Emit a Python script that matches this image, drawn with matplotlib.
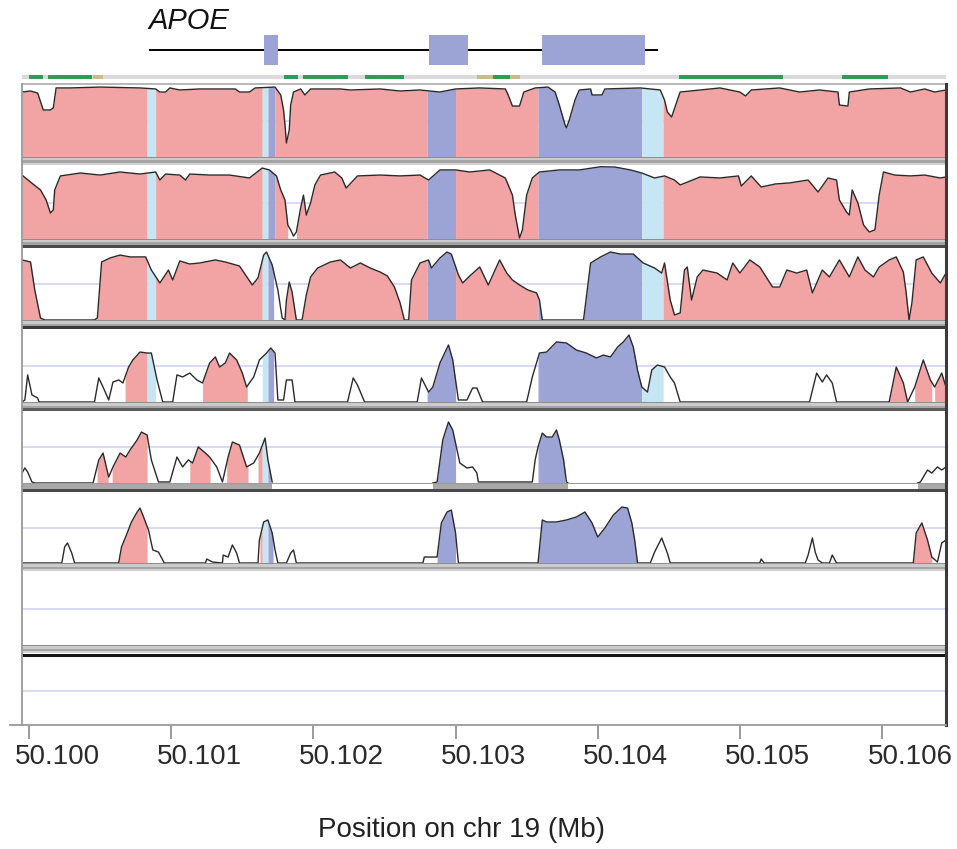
import numpy as np
import matplotlib
matplotlib.use('Agg')
import matplotlib.pyplot as plt
from matplotlib.patches import Rectangle
from matplotlib.lines import Line2D
from matplotlib import transforms

plt.rcParams['font.family'] = ['Liberation Sans', 'DejaVu Sans']

# positions are kb from 50.100 Mb, values are % identity (50-100)
START_MB = 50.100
view_kb = (-0.05, 6.45)
tick_kb = [0, 1, 2, 3, 4, 5, 6]
tick_labels = ['50.100', '50.101', '50.102', '50.103', '50.104', '50.105', '50.106']

gene_name = 'APOE'
gene_span = (0.85, 4.42)
gene_exons = [(1.65, 1.75), (2.81, 3.09), (3.61, 4.33)]

green_blocks = [(0.00, 0.10), (0.13, 0.44), (1.79, 1.89), (1.93, 2.24), (2.36, 2.64),
                (3.26, 3.38), (4.57, 5.30), (5.72, 6.04)]
tan_blocks = [(0.45, 0.52), (3.15, 3.26), (3.38, 3.45)]

# annotation of the region: utr / exon, everything else is non-coding
annot = [(0.83, 0.89, 'utr'), (1.64, 1.68, 'utr'), (1.68, 1.73, 'exon'),
         (2.80, 3.00, 'exon'), (3.58, 4.31, 'exon'), (4.31, 4.46, 'utr')]

p1_pos = [-0.05, 0.01, 0.06, 0.10, 0.15, 0.17, 0.19, 0.29, 0.50, 0.78, 0.89, 0.92, 0.96, 0.99,
          1.06, 1.20, 1.45, 1.48, 1.55, 1.59, 1.73, 1.77, 1.79, 1.80, 1.81, 1.83, 1.84, 1.86,
          1.91, 1.94, 1.98, 2.19, 2.26, 2.47, 2.61, 2.75, 2.89, 3.00, 3.17, 3.35, 3.37, 3.40,
          3.45, 3.48, 3.56, 3.65, 3.70, 3.73, 3.77, 3.78, 3.80, 3.84, 3.87, 3.95, 3.96, 4.03,
          4.05, 4.30, 4.44, 4.47, 4.49, 4.52, 4.56, 4.58, 4.72, 4.86, 5.00, 5.04, 5.08, 5.28,
          5.42, 5.56, 5.69, 5.70, 5.76, 5.77, 5.91, 6.13, 6.20, 6.30, 6.37, 6.45]
p1_val = [94.5, 95.2, 93.8, 82.2, 82.2, 83.6, 97.3, 97.3, 97.9, 97.3, 96.6, 94.5, 94.5, 97.3,
          95.9, 96.6, 96.6, 94.5, 94.5, 97.3, 97.9, 92.5, 82.2, 72.0, 59.6, 68.5, 85.6, 94.5,
          96.6, 92.5, 96.6, 96.6, 95.9, 96.6, 95.2, 95.9, 94.5, 96.6, 97.3, 96.6, 92.5, 84.9,
          84.9, 94.5, 97.3, 97.9, 94.5, 85.6, 72.0, 70.0, 75.3, 89.0, 95.9, 96.6, 92.5, 92.5,
          96.6, 97.3, 95.9, 89.0, 80.8, 77.4, 89.0, 94.5, 95.9, 97.3, 94.5, 91.8, 95.9, 97.3,
          94.5, 95.9, 94.5, 85.6, 84.9, 94.5, 96.6, 97.3, 94.5, 96.6, 94.5, 95.9]

p2_pos = [-0.05, 0.01, 0.08, 0.12, 0.15, 0.17, 0.18, 0.22, 0.36, 0.50, 0.64, 0.78, 0.89, 0.92,
          0.96, 1.06, 1.10, 1.13, 1.27, 1.41, 1.55, 1.64, 1.69, 1.74, 1.77, 1.80, 1.82, 1.84,
          1.86, 1.88, 1.91, 1.93, 1.95, 1.98, 2.01, 2.05, 2.15, 2.20, 2.23, 2.27, 2.31, 2.47,
          2.61, 2.75, 2.81, 2.89, 3.00, 3.10, 3.24, 3.35, 3.40, 3.42, 3.45, 3.47, 3.50, 3.54,
          3.59, 3.73, 3.87, 4.02, 4.12, 4.23, 4.31, 4.40, 4.47, 4.54, 4.58, 4.72, 4.86, 4.99,
          5.01, 5.08, 5.15, 5.25, 5.35, 5.48, 5.55, 5.62, 5.68, 5.70, 5.75, 5.77, 5.79, 5.83,
          5.87, 5.91, 5.95, 5.98, 6.01, 6.09, 6.20, 6.30, 6.41, 6.45]
p2_val = [93.8, 89.0, 83.6, 76.7, 67.8, 69.9, 83.6, 93.2, 95.2, 93.8, 95.9, 94.5, 95.9, 90.4,
          94.5, 93.8, 90.4, 94.5, 93.8, 93.8, 91.8, 98.6, 97.3, 93.2, 83.6, 76.7, 59.6, 56.2,
          52.0, 54.8, 71.2, 80.1, 66.4, 74.7, 87.0, 93.8, 95.9, 91.8, 84.9, 89.0, 93.2, 93.8,
          93.2, 93.8, 90.4, 97.3, 97.3, 95.9, 97.3, 91.8, 80.1, 66.4, 50.7, 56.2, 80.1, 91.8,
          95.9, 97.3, 97.3, 99.5, 99.3, 97.3, 95.2, 91.8, 93.2, 90.4, 87.0, 92.5, 91.8, 93.2,
          86.3, 93.2, 85.6, 87.7, 88.4, 90.4, 82.2, 91.8, 90.4, 76.7, 68.5, 66.4, 83.6, 74.7,
          59.6, 54.8, 56.2, 80.1, 95.9, 93.8, 93.2, 93.8, 91.8, 92.5]

p3_pos = [-0.05, 0.01, 0.04, 0.08, 0.11, 0.46, 0.48, 0.51, 0.57, 0.64, 0.71, 0.82, 0.86, 0.92,
          0.98, 1.01, 1.06, 1.13, 1.20, 1.31, 1.38, 1.48, 1.57, 1.61, 1.65, 1.67, 1.71, 1.75,
          1.78, 1.80, 1.81, 1.83, 1.85, 1.88, 1.92, 1.95, 1.98, 2.03, 2.12, 2.19, 2.26, 2.33,
          2.40, 2.47, 2.52, 2.57, 2.61, 2.64, 2.67, 2.69, 2.75, 2.81, 2.83, 2.89, 2.94, 2.97,
          3.02, 3.05, 3.10, 3.17, 3.23, 3.31, 3.36, 3.40, 3.45, 3.51, 3.57, 3.59, 3.61, 3.90,
          3.95, 4.02, 4.09, 4.16, 4.25, 4.32, 4.40, 4.45, 4.47, 4.51, 4.54, 4.58, 4.61, 4.63,
          4.66, 4.70, 4.74, 4.84, 4.91, 4.95, 5.00, 5.07, 5.14, 5.23, 5.28, 5.33, 5.40, 5.47,
          5.51, 5.58, 5.63, 5.70, 5.77, 5.83, 5.88, 5.94, 5.98, 6.05, 6.10, 6.15, 6.17, 6.19,
          6.21, 6.24, 6.29, 6.35, 6.41, 6.45]
p3_val = [91.7, 90.3, 70.8, 51.4, 50.0, 50.0, 51.4, 90.3, 93.1, 95.1, 93.8, 93.8, 84.7, 75.7,
          84.7, 77.8, 91.0, 88.9, 89.6, 91.7, 90.3, 87.5, 74.3, 79.2, 95.1, 97.2, 88.2, 70.8,
          51.4, 50.0, 63.9, 76.4, 69.4, 50.0, 50.0, 67.4, 79.9, 86.1, 90.3, 91.7, 86.1, 89.6,
          86.1, 83.3, 80.6, 72.9, 61.8, 50.0, 50.0, 77.8, 89.6, 91.7, 86.1, 93.1, 97.2, 95.8,
          81.3, 75.7, 80.6, 86.8, 74.3, 91.7, 82.6, 77.8, 74.3, 70.8, 68.8, 63.9, 50.0, 50.0,
          89.6, 93.8, 97.2, 95.8, 95.8, 89.6, 86.1, 82.6, 89.6, 63.9, 53.5, 54.9, 84.7, 86.8,
          63.9, 79.9, 84.7, 82.6, 77.8, 89.6, 82.6, 91.7, 86.8, 72.9, 72.9, 84.7, 82.6, 84.7,
          68.8, 84.7, 79.9, 91.7, 79.9, 93.8, 84.7, 79.9, 86.8, 91.7, 93.8, 83.3, 68.8, 50.0,
          61.8, 91.7, 93.8, 82.6, 75.7, 82.6]

p4_pos = [-0.05, -0.03, -0.01, 0.02, 0.06, 0.07, 0.46, 0.49, 0.52, 0.56, 0.59, 0.63, 0.66,
          0.70, 0.73, 0.78, 0.83, 0.86, 0.90, 0.94, 1.01, 1.04, 1.08, 1.13, 1.18, 1.22, 1.27,
          1.31, 1.34, 1.38, 1.41, 1.46, 1.50, 1.53, 1.58, 1.62, 1.67, 1.70, 1.73, 1.75, 1.79,
          1.81, 1.85, 1.87, 2.24, 2.28, 2.31, 2.36, 2.73, 2.76, 2.81, 2.84, 2.89, 2.95, 2.98,
          3.02, 3.08, 3.12, 3.15, 3.19, 3.50, 3.54, 3.59, 3.64, 3.71, 3.78, 3.85, 3.92, 3.99,
          4.04, 4.09, 4.14, 4.18, 4.22, 4.25, 4.28, 4.31, 4.35, 4.38, 4.42, 4.47, 4.51, 4.54,
          4.58, 5.49, 5.54, 5.58, 5.61, 5.65, 5.68, 6.05, 6.10, 6.15, 6.18, 6.23, 6.29, 6.34,
          6.37, 6.42, 6.45]
p4_val = [50.0, 51.4, 68.8, 54.9, 52.8, 50.0, 50.0, 66.7, 60.4, 51.4, 63.9, 65.3, 63.2,
          74.3, 79.2, 84.7, 84.0, 84.0, 65.3, 50.0, 50.0, 68.8, 67.4, 70.1, 65.3, 63.2, 77.1,
          81.3, 74.3, 77.1, 84.0, 79.2, 70.1, 60.4, 67.4, 79.2, 84.0, 87.5, 84.0, 51.4, 51.4,
          65.3, 65.3, 50.0, 50.0, 66.7, 61.8, 50.0, 50.0, 66.7, 56.9, 60.4, 77.1, 89.6, 79.2,
          51.4, 51.4, 59.7, 59.7, 50.0, 50.0, 67.4, 84.0, 84.7, 91.7, 91.0, 86.1, 84.0, 80.6,
          82.6, 81.3, 88.2, 91.7, 96.5, 88.2, 72.2, 60.4, 56.9, 72.2, 75.7, 74.3, 67.4, 63.2,
          50.0, 50.0, 70.1, 63.9, 68.8, 63.2, 50.0, 50.0, 74.3, 63.2, 50.0, 60.4, 79.2, 65.3,
          60.4, 70.1, 60.4]

# nan = no alignment
p5_pos = [-0.05, -0.03, -0.01, 0.02, 0.04, 0.45, 0.49, 0.52, 0.56, 0.59, 0.64, 0.68, 0.71,
          0.76, 0.79, 0.83, 0.86, 0.91, 0.99, 1.04, 1.08, 1.12, 1.15, 1.19, 1.24, 1.27, 1.32,
          1.36, 1.40, 1.43, 1.48, 1.53, 1.58, 1.62, 1.66, 1.68, 1.71, 2.30, 2.84, 2.87, 2.91,
          2.95, 2.98, 3.03, 3.08, 3.12, 3.15, 3.16, 3.54, 3.56, 3.58, 3.61, 3.64, 3.68, 3.71,
          3.73, 3.76, 3.78, 3.79, 5.00, 6.25, 6.27, 6.32, 6.35, 6.39, 6.42, 6.45]
p5_val = [56.8, 60.3, 57.5, 50.7, 50.0, 50.0, 65.8, 70.5, 54.1, 61.0, 70.5, 67.8, 72.6,
          79.5, 84.9, 82.9, 65.8, 50.7, 50.7, 67.8, 61.0, 65.8, 63.7, 74.7, 70.5, 67.8, 61.0,
          50.7, 67.8, 78.1, 76.0, 61.0, 63.7, 70.5, 80.8, 65.8, 50.7, np.nan, 50.0, 50.7, 79.5,
          91.8, 86.3, 63.7, 60.3, 61.0, 56.8, 50.7, 50.7, 65.8, 74.7, 84.2, 81.5, 81.5, 86.3,
          79.5, 65.8, 50.7, 50.0, np.nan, 50.0, 50.7, 58.9, 56.8, 61.0, 58.9, 61.0]

p6_pos = [-0.05, 0.23, 0.25, 0.27, 0.30, 0.32, 0.63, 0.65, 0.69, 0.72, 0.76, 0.78, 0.80,
          0.84, 0.87, 0.91, 0.94, 0.95, 1.24, 1.25, 1.29, 1.36, 1.365, 1.40, 1.43, 1.46, 1.48,
          1.61, 1.62, 1.65, 1.68, 1.71, 1.73, 1.75, 1.81, 1.84, 1.86, 1.88, 2.77, 2.78, 2.87,
          2.90, 2.94, 2.97, 3.00, 3.02, 3.58, 3.61, 3.64, 3.71, 3.78, 3.85, 3.91, 3.96, 4.00,
          4.05, 4.11, 4.17, 4.21, 4.24, 4.26, 4.28, 4.37, 4.40, 4.45, 4.49, 4.51, 5.14, 5.15,
          5.17, 5.46, 5.48, 5.51, 5.53, 5.55, 5.58, 5.63, 5.65, 5.68, 6.22, 6.24, 6.28, 6.32,
          6.35, 6.39, 6.42, 6.45]
p6_val = [50.0, 50.0, 61.3, 64.1, 57.0, 50.0, 50.0, 61.3, 71.1, 78.9, 85.9, 88.7, 83.8,
          73.2, 59.2, 57.7, 52.1, 50.0, 50.0, 52.8, 50.7, 50.0, 55.6, 54.2, 62.7, 57.0, 50.0,
          50.0, 66.2, 78.9, 80.3, 71.1, 59.2, 50.0, 50.0, 57.0, 59.2, 50.0, 50.0, 54.2, 54.2,
          78.2, 85.9, 87.3, 71.1, 50.0, 50.0, 80.3, 78.9, 78.9, 80.3, 82.4, 85.9, 78.2, 68.3,
          74.6, 83.8, 89.4, 88.7, 78.2, 66.2, 50.0, 50.0, 57.7, 67.6, 57.0, 50.0, 50.0, 52.8,
          50.0, 50.0, 55.6, 67.6, 57.7, 52.1, 50.0, 50.0, 55.6, 50.0, 50.0, 71.1, 78.2, 66.2,
          54.2, 50.7, 64.1, 66.2]

# conserved (coloured) stretches per track
p1_cons = [(-0.05, 6.45)]
p2_cons = [(-0.05, 1.82), (1.88, 6.45)]
p3_cons = [(-0.05, 1.72), (1.80, 6.45)]
p4_cons = [(0.675, 0.89), (1.22, 1.535), (1.64, 1.72), (2.80, 3.00), (3.58, 4.46),
           (6.05, 6.18), (6.23, 6.35), (6.37, 6.45)]
p5_cons = [(0.478, 0.556), (0.584, 0.83), (1.13, 1.273), (1.39, 1.54), (1.61, 1.70),
           (2.87, 3.00), (3.58, 3.77)]
p6_cons = [(0.63, 0.83), (1.624, 1.716), (2.87, 3.00), (3.58, 4.276), (6.217, 6.35)]
p5_aligned = [(-0.05, 1.71), (2.84, 3.79), (6.25, 6.45)]

colors = {'nc': '#f2a3a3', 'exon': '#9ca3d5', 'utr': '#c6e6f3'}

W, H = 957, 849
L, R = 22, 946
fig = plt.figure(figsize=(W / 100, H / 100), dpi=100)


def mb(kb):
    return START_MB + np.asarray(kb, dtype=float) / 1000


def add_axes(top, bottom):
    ax = fig.add_axes([L / W, 1 - bottom / H, (R - L) / W, (bottom - top) / H])
    ax.set_xlim(mb(view_kb[0]), mb(view_kb[1]))
    ax.axis('off')
    return ax


def band(py0, py1, color, z=3):
    fig.add_artist(Rectangle((L / W, 1 - py1 / H), (R - L) / W, (py1 - py0) / H,
                             transform=fig.transFigure, facecolor=color,
                             edgecolor='none', zorder=z))


def pieces(lo, hi):
    cuts = sorted({lo, hi} | {v for a, b, _ in annot for v in (a, b) if lo < v < hi})
    out = []
    for a, b in zip(cuts[:-1], cuts[1:]):
        mid = (a + b) / 2
        kind = 'nc'
        for s, e, k in annot:
            if s <= mid < e:
                kind = k
        out.append((a, b, colors[kind]))
    return out


def draw_track(ax, pos, val, cons):
    x = np.asarray(pos, dtype=float)
    y = np.asarray(val, dtype=float)
    ax.set_ylim(50, 100)
    ax.axhline(75, color='#cfcff2', lw=1.1, zorder=1)
    for lo, hi in cons:
        for a, b, c in pieces(lo, hi):
            inside = (x > a) & (x < b)
            xs = np.r_[a, x[inside], b]
            ys = np.r_[np.interp(a, x, y), y[inside], np.interp(b, x, y)]
            ax.fill_between(mb(xs), 50, ys, color=c, lw=0, zorder=2)
    ax.plot(mb(x), y, color='#2a2a2a', lw=1.0, zorder=3)


# gene model
ax_g = add_axes(30, 70)
ax_g.set_ylim(0, 1)
ax_g.plot(mb(gene_span), [0.5, 0.5], color='black', lw=1.4, zorder=1)
for s, e in gene_exons:
    ax_g.add_patch(Rectangle((mb(s), 0.125), mb(e) - mb(s), 0.75,
                             facecolor=colors['exon'], edgecolor='none', zorder=2))
ax_g.text(mb(gene_span[0]) - 0.000014, 1.22, gene_name, style='italic', fontsize=21,
          ha='left', va='center', color='#111111', clip_on=False)

# conserved block track
ax_c = add_axes(74, 80)
ax_c.set_ylim(0, 1)
ax_c.axhspan(0.15, 0.85, color='#dadada', lw=0)
for s, e in green_blocks:
    ax_c.add_patch(Rectangle((mb(s), 0.1), mb(e) - mb(s), 0.8, facecolor='#2f9b57',
                             edgecolor='none'))
for s, e in tan_blocks:
    ax_c.add_patch(Rectangle((mb(s), 0.1), mb(e) - mb(s), 0.8, facecolor='#c9bb8e',
                             edgecolor='none'))

rows = [(84, 157), (166, 239), (248, 320), (330, 402), (410, 483), (492, 563),
        (572, 645), (657, 725)]
tracks = [(p1_pos, p1_val, p1_cons), (p2_pos, p2_val, p2_cons), (p3_pos, p3_val, p3_cons),
          (p4_pos, p4_val, p4_cons), (p5_pos, p5_val, p5_cons), (p6_pos, p6_val, p6_cons)]

axes = []
for i, (top, bottom) in enumerate(rows):
    ax = add_axes(top, bottom)
    if i < len(tracks):
        draw_track(ax, *tracks[i])
    else:
        ax.set_ylim(50, 100)
        ax.axhline(75, color='#cfcff2', lw=1.1, zorder=1)
    axes.append(ax)

# separators under each track
band(83.5, 85, '#b8b8b8')
for b, dark in [(157, None), (239, '#4a4a4a'), (320, '#3a3a3a'), (402, '#5c5c5c'),
                (563, None), (645, None)]:
    band(b, b + 1, '#8e8e8e')
    band(b + 1, b + 3.5, '#cbcbcb')
    band(b + 3.5, b + 6, '#a4a4a4')
    if dark:
        band(b + 6, b + 9, dark)
    else:
        band(b + 6, b + 8, '#d2d2d2')
band(483, 484, '#9a9a9a')
band(489, 492, '#4a4a4a')
band(654, 656.5, '#151515')

ax5 = axes[4]
trans = transforms.blended_transform_factory(ax5.transData, fig.transFigure)
for s, e in p5_aligned:
    ax5.add_patch(Rectangle((mb(s), 1 - 489 / H), mb(e) - mb(s), 5 / H, transform=trans,
                            facecolor='#a8a8a8', edgecolor='none', clip_on=False, zorder=4))

fig.add_artist(Line2D([L / W, L / W], [1 - 84 / H, 1 - 725 / H], color='#9a9a9a',
                      lw=1.3, zorder=5))
fig.add_artist(Line2D([R / W, R / W], [1 - 84 / H, 1 - 725 / H], color='#3a3a3a',
                      lw=2.2, zorder=5))
fig.add_artist(Line2D([10 / W, R / W], [1 - 725 / H, 1 - 725 / H], color='#9a9a9a',
                      lw=1.3, zorder=5))

# position axis
ax8 = axes[-1]
ax8.axis('on')
for sp in ax8.spines.values():
    sp.set_visible(False)
ax8.set_yticks([])
ax8.set_xticks(mb(tick_kb))
ax8.set_xticklabels(tick_labels)
ax8.tick_params(axis='x', length=10, width=1.2, color='#8a8a8a', labelsize=20, pad=4,
                labelcolor='#2a2a2a')
# labels in the original sit a little to the right of their ticks
shift = transforms.ScaledTranslation(0.28, 0, fig.dpi_scale_trans)
for lab in ax8.get_xticklabels():
    lab.set_transform(lab.get_transform() + shift)

fig.text(462 / W, 1 - 830 / H, 'Position on chr 19 (Mb)', ha='center', va='center',
         fontsize=20, color='#222222')

fig.savefig('out.png', dpi=100)
